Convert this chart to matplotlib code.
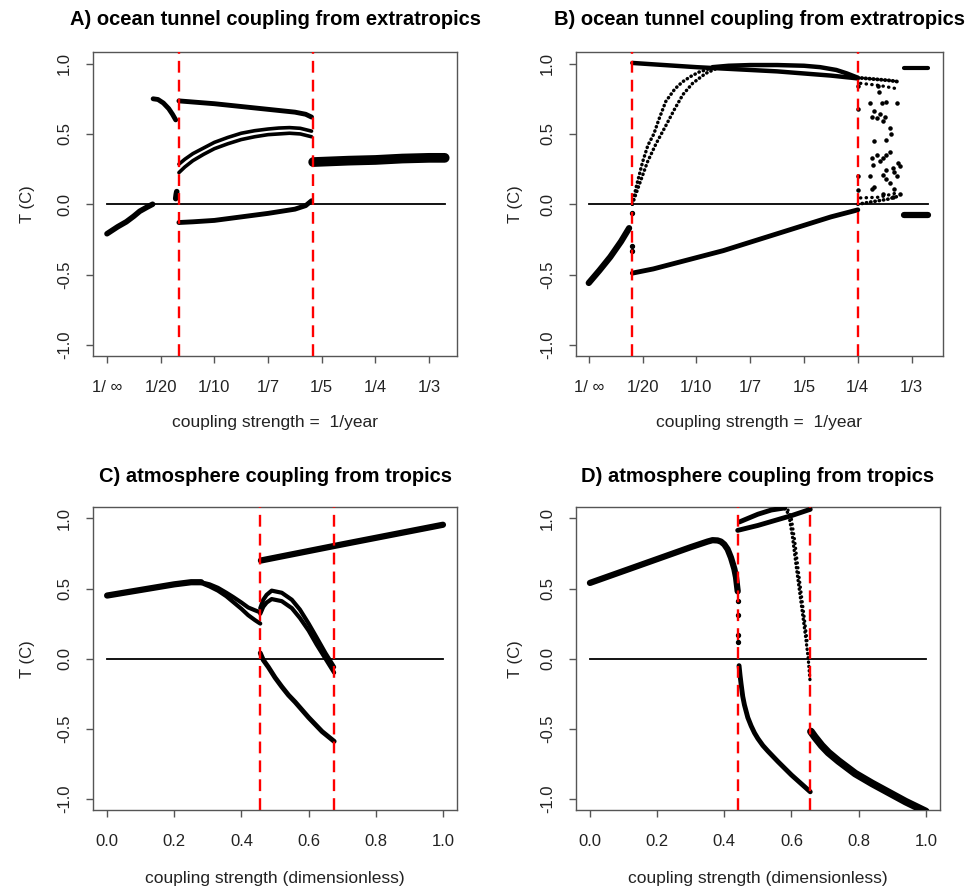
import numpy as np
import matplotlib.pyplot as plt

plt.rcParams['font.family'] = ['Liberation Sans', 'DejaVu Sans']

# ---------------- axis labels / ticks ----------------
year_ticks = [0, 1, 2, 3, 4, 5, 6]
year_labels = ['1/ \u221e', '1/20', '1/10', '1/7', '1/5', '1/4', '1/3']
dimless_ticks = [0.0, 0.2, 0.4, 0.6, 0.8, 1.0]
dimless_labels = ['0.0', '0.2', '0.4', '0.6', '0.8', '1.0']
t_ticks = [-1.0, -0.5, 0.0, 0.5, 1.0]
t_labels = ['-1.0', '-0.5', '0.0', '0.5', '1.0']

titles = ['A) ocean tunnel coupling from extratropics',
          'B) ocean tunnel coupling from extratropics',
          'C) atmosphere coupling from tropics',
          'D) atmosphere coupling from tropics']
xlab_year = 'coupling strength =  1/year'
xlab_dim = 'coupling strength (dimensionless)'

# ---------------- panel A ----------------
a_vlines = [1.34, 3.84]
a_zero_x = [0.0, 6.29]
a_left_x = [0.0, 0.1, 0.2, 0.36, 0.5, 0.61, 0.75, 0.85]
a_left_y = [-0.21, -0.185, -0.16, -0.125, -0.085, -0.05, -0.02, 0.0]
a_short_x = [0.86, 0.95, 1.05, 1.15, 1.22, 1.28]
a_short_y = [0.75, 0.745, 0.72, 0.68, 0.64, 0.60]
a_blob_x = [1.28, 1.29, 1.30]
a_blob_y = [0.04, 0.07, 0.09]
a_top_x = [1.34, 2.0, 2.5, 3.0, 3.5, 3.7, 3.81]
a_top_y = [0.735, 0.715, 0.695, 0.675, 0.655, 0.64, 0.62]
a_mid_x = [1.34, 1.45, 1.6, 1.8, 2.0, 2.25, 2.5, 2.75, 3.0, 3.2, 3.4, 3.6, 3.81]
a_mid_lo_y = [0.225, 0.265, 0.31, 0.355, 0.395, 0.43, 0.46, 0.48, 0.495, 0.50, 0.505, 0.50, 0.48]
a_mid_hi_y = [0.285, 0.32, 0.36, 0.40, 0.44, 0.475, 0.505, 0.523, 0.535, 0.542, 0.545, 0.54, 0.52]
a_low_x = [1.34, 1.6, 2.0, 2.5, 3.0, 3.5, 3.7, 3.81]
a_low_y = [-0.13, -0.125, -0.115, -0.09, -0.065, -0.035, -0.01, 0.025]
a_band_x = [3.84, 4.5, 5.0, 5.5, 6.0, 6.29]
a_band_y = [0.30, 0.31, 0.315, 0.325, 0.33, 0.33]

# ---------------- panel B ----------------
b_vlines = [0.81, 5.01]
b_zero_x = [0.0, 6.3]
b_left_x = [0.0, 0.2, 0.4, 0.6, 0.75]
b_left_y = [-0.56, -0.47, -0.375, -0.265, -0.17]
b_lpts_x = [0.81, 0.81, 0.81]
b_lpts_y = [-0.065, -0.30, -0.33]
b_top_x = [0.81, 1.2, 1.6, 2.0, 2.5, 3.0, 3.5, 4.0, 4.5, 5.0]
b_top_y = [1.005, 0.995, 0.985, 0.975, 0.965, 0.955, 0.945, 0.93, 0.915, 0.895]
b_flat_x = [2.3, 2.6, 3.0, 3.5, 4.0, 4.3, 4.6, 4.8, 5.0]
b_flat_y = [0.975, 0.985, 0.99, 0.99, 0.985, 0.975, 0.955, 0.93, 0.90]
b_rise1_x = [0.81, 0.88, 1.0, 1.1, 1.21, 1.3, 1.43, 1.6, 1.74, 1.9, 2.05, 2.25]
b_rise1_y = [0.0, 0.12, 0.30, 0.42, 0.50, 0.60, 0.73, 0.82, 0.87, 0.91, 0.94, 0.965]
b_rise2_x = [0.81, 0.92, 1.09, 1.25, 1.42, 1.6, 1.75, 1.93, 2.17, 2.4]
b_rise2_y = [0.0, 0.12, 0.30, 0.43, 0.55, 0.68, 0.78, 0.86, 0.93, 0.97]
b_low_x = [0.81, 1.2, 1.6, 2.0, 2.5, 3.0, 3.5, 4.0, 4.5, 5.0]
b_low_y = [-0.49, -0.46, -0.42, -0.38, -0.33, -0.27, -0.21, -0.15, -0.09, -0.04]
b_hi1_x = [5.0, 5.3, 5.6, 5.78]
b_hi1_y = [0.90, 0.89, 0.88, 0.87]
b_hi2_x = [5.05, 5.4, 5.75]
b_hi2_y = [0.86, 0.845, 0.82]
b_lo1_x = [5.0, 5.3, 5.55, 5.78]
b_lo1_y = [0.0, 0.02, 0.035, 0.06]
b_lo2_x = [5.05, 5.4, 5.72]
b_lo2_y = [0.045, 0.05, 0.08]
b_chaos_x = [5.22, 5.45, 5.52, 5.72, 5.40, 5.38, 5.30, 5.27, 5.35, 5.41,
             5.47, 5.50, 5.59, 5.62, 5.53, 5.31, 5.59, 5.53, 5.47, 5.35,
             5.27, 5.41, 5.29, 5.22, 5.47, 5.53, 5.66, 5.74, 5.68, 5.72,
             5.78, 5.53, 5.59, 5.31, 5.27, 5.68, 5.78, 5.47, 5.66,
             5.0, 5.0, 5.0, 5.0]
b_chaos_y = [0.72, 0.72, 0.73, 0.72, 0.80, 0.84, 0.66, 0.62, 0.61, 0.64,
             0.59, 0.62, 0.54, 0.50, 0.46, 0.45, 0.37, 0.35, 0.33, 0.35,
             0.33, 0.31, 0.28, 0.20, 0.21, 0.24, 0.26, 0.29, 0.23, 0.20,
             0.27, 0.18, 0.15, 0.12, 0.11, 0.11, 0.07, 0.07, 0.05,
             0.84, 0.68, 0.20, 0.10]
b_rhi_x = [5.85, 6.3]
b_rhi_y = [0.967, 0.967]
b_rlo_x = [5.85, 6.3]
b_rlo_y = [-0.077, -0.077]

# ---------------- panel C ----------------
c_vlines = [0.455, 0.675]
c_zero_x = [0.0, 1.0]
c_left_x = [0.0, 0.1, 0.2, 0.25, 0.28]
c_left_y = [0.45, 0.49, 0.53, 0.545, 0.545]
c_bend_x = [0.28, 0.305, 0.33, 0.355, 0.375, 0.40, 0.42, 0.44, 0.456]
c_bend_hi_y = [0.545, 0.53, 0.505, 0.47, 0.44, 0.40, 0.365, 0.345, 0.33]
c_bend_lo_y = [0.54, 0.515, 0.485, 0.445, 0.405, 0.355, 0.31, 0.275, 0.25]
c_upper_x = [0.458, 0.7, 1.0]
c_upper_y = [0.70, 0.815, 0.955]
c_hump_x = [0.456, 0.465, 0.475, 0.49, 0.52, 0.55, 0.574, 0.60, 0.624, 0.65, 0.676]
c_hump_hi_y = [0.36, 0.42, 0.455, 0.485, 0.47, 0.42, 0.35, 0.25, 0.15, 0.04, -0.06]
c_hump_lo_y = [0.32, 0.37, 0.40, 0.425, 0.41, 0.36, 0.29, 0.20, 0.10, 0.0, -0.10]
c_lower_x = [0.456, 0.465, 0.48, 0.50, 0.52, 0.54, 0.56, 0.60, 0.64, 0.676]
c_lower_y = [0.04, -0.01, -0.06, -0.135, -0.20, -0.26, -0.31, -0.42, -0.52, -0.59]

# ---------------- panel D ----------------
d_vlines = [0.44, 0.656]
d_zero_x = [0.0, 1.0]
d_left_x = [0.0, 0.1, 0.2, 0.3, 0.35, 0.365, 0.38, 0.39, 0.4, 0.41, 0.42, 0.43, 0.435, 0.44]
d_left_y = [0.54, 0.625, 0.71, 0.795, 0.835, 0.845, 0.843, 0.835, 0.815, 0.78, 0.72, 0.64, 0.58, 0.48]
d_gap_x = [0.44, 0.44, 0.44, 0.44]
d_gap_y = [0.41, 0.31, 0.17, 0.12]
d_fall_x = [0.444, 0.447, 0.45, 0.455, 0.46, 0.47, 0.48, 0.49, 0.50, 0.515, 0.53, 0.56, 0.60, 0.656]
d_fall_y = [-0.05, -0.12, -0.18, -0.27, -0.33, -0.42, -0.48, -0.53, -0.57, -0.62, -0.66, -0.735, -0.83, -0.95]
d_right_x = [0.658, 0.67, 0.69, 0.71, 0.74, 0.79, 0.84, 0.89, 0.94, 1.0]
d_right_y = [-0.52, -0.56, -0.62, -0.67, -0.73, -0.82, -0.89, -0.955, -1.02, -1.09]
d_toplo_x = [0.44, 0.50, 0.55, 0.60, 0.656]
d_toplo_y = [0.915, 0.95, 0.985, 1.02, 1.065]
d_tophi_x = [0.445, 0.50, 0.54, 0.58]
d_tophi_y = [0.975, 1.03, 1.06, 1.075]
d_drop1_x = [0.58, 0.592, 0.603, 0.613, 0.623, 0.633, 0.643, 0.65, 0.655]
d_drop1_y = [1.07, 1.03, 0.87, 0.68, 0.50, 0.32, 0.14, 0.0, -0.15]
d_drop2_x = [0.59, 0.60, 0.61, 0.62, 0.63, 0.638, 0.647]
d_drop2_y = [1.06, 1.0, 0.84, 0.64, 0.45, 0.30, 0.12]

GREY = '#555555'


def branch(ax, x, y, lw=3.5):
    ax.plot(x, y, color='black', lw=lw, solid_capstyle='round',
            solid_joinstyle='round', zorder=3)


def dotted(ax, x, y, lw=2.5, gap=1.2):
    ax.plot(x, y, color='black', lw=lw, linestyle=(0, (0.1, gap)),
            dash_capstyle='round', zorder=3)


def frame(ax, title, vlines, zero_x, xlim, xticks, xlabels, xlab, tpad):
    ax.set_xlim(*xlim)
    ax.set_ylim(-1.08, 1.08)
    for v in vlines:
        ax.axvline(v, color='red', lw=1.7, linestyle=(0, (5, 3)), zorder=4)
    ax.plot(zero_x, [0, 0], color='black', lw=1.3, zorder=2)
    ax.set_xticks(xticks)
    ax.set_xticklabels(xlabels, fontsize=12, color='#222222')
    ax.set_yticks(t_ticks)
    ax.set_yticklabels(t_labels, fontsize=12, color='#222222',
                       rotation=90, va='center')
    ax.tick_params(axis='both', direction='out', length=5, width=1,
                   color=GREY)
    ax.tick_params(axis='x', pad=12.5)
    ax.tick_params(axis='y', pad=10)
    for s in ax.spines.values():
        s.set_color(GREY)
        s.set_linewidth(1.0)
    ax.set_title(title, fontsize=14.5, fontweight='bold', pad=tpad)
    ax.set_xlabel(xlab, fontsize=12.5, color='#222222')
    ax.set_ylabel('T (C)', fontsize=12, color='#222222')


fig = plt.figure(figsize=(9.76, 8.88), dpi=100)
axA = fig.add_axes([0.0953, 0.599, 0.373, 0.342])
axB = fig.add_axes([0.590, 0.599, 0.376, 0.342])
axC = fig.add_axes([0.0953, 0.0878, 0.373, 0.341])
axD = fig.add_axes([0.590, 0.0878, 0.373, 0.341])

# A
frame(axA, titles[0], a_vlines, a_zero_x, (-0.26, 6.52), year_ticks,
      year_labels, xlab_year, 20)
branch(axA, a_left_x, a_left_y, 4)
branch(axA, a_short_x, a_short_y, 3.5)
branch(axA, a_blob_x, a_blob_y, 4)
branch(axA, a_top_x, a_top_y, 3.5)
branch(axA, a_mid_x, a_mid_lo_y, 2.6)
branch(axA, a_mid_x, a_mid_hi_y, 2.6)
branch(axA, a_low_x, a_low_y, 3.5)
branch(axA, a_band_x, a_band_y, 7)

# B
frame(axB, titles[1], b_vlines, b_zero_x, (-0.24, 6.58), year_ticks,
      year_labels, xlab_year, 20)
branch(axB, b_left_x, b_left_y, 4.5)
axB.scatter(b_lpts_x, b_lpts_y, s=8, color='black', zorder=3)
branch(axB, b_top_x, b_top_y, 3.2)
branch(axB, b_flat_x, b_flat_y, 3.2)
dotted(axB, b_rise1_x, b_rise1_y)
dotted(axB, b_rise2_x, b_rise2_y)
branch(axB, b_low_x, b_low_y, 3.5)
dotted(axB, b_hi1_x, b_hi1_y, 2.8, 0.9)
dotted(axB, b_hi2_x, b_hi2_y, 2.4, 1.6)
dotted(axB, b_lo1_x, b_lo1_y, 2.6, 1.1)
dotted(axB, b_lo2_x, b_lo2_y, 2.4, 1.6)
axB.scatter(b_chaos_x, b_chaos_y, s=5, color='black', zorder=3)
branch(axB, b_rhi_x, b_rhi_y, 3)
branch(axB, b_rlo_x, b_rlo_y, 4.5)

# C
frame(axC, titles[2], c_vlines, c_zero_x, (-0.042, 1.042), dimless_ticks,
      dimless_labels, xlab_dim, 18)
branch(axC, c_left_x, c_left_y, 4.5)
branch(axC, c_bend_x, c_bend_hi_y, 3)
branch(axC, c_bend_x, c_bend_lo_y, 3)
branch(axC, c_upper_x, c_upper_y, 4.5)
branch(axC, c_hump_x, c_hump_hi_y, 3)
branch(axC, c_hump_x, c_hump_lo_y, 3)
branch(axC, c_lower_x, c_lower_y, 3.5)

# D
frame(axD, titles[3], d_vlines, d_zero_x, (-0.042, 1.042), dimless_ticks,
      dimless_labels, xlab_dim, 18)
branch(axD, d_left_x, d_left_y, 4.5)
axD.scatter(d_gap_x, d_gap_y, s=8, color='black', zorder=3)
branch(axD, d_fall_x, d_fall_y, 3.5)
branch(axD, d_right_x, d_right_y, 5.5)
branch(axD, d_toplo_x, d_toplo_y, 3.5)
branch(axD, d_tophi_x, d_tophi_y, 3.5)
dotted(axD, d_drop1_x, d_drop1_y, 2.4, 1.2)
dotted(axD, d_drop2_x, d_drop2_y, 2.2, 1.5)

for ax, lx in [(axA, -0.159), (axB, -0.144), (axC, -0.159), (axD, -0.144)]:
    ax.yaxis.set_label_coords(lx, 0.5)
for ax, ly in [(axA, -0.195), (axB, -0.195), (axC, -0.2), (axD, -0.2)]:
    ax.xaxis.set_label_coords(0.5, ly)

fig.savefig('out.png', dpi=100)
